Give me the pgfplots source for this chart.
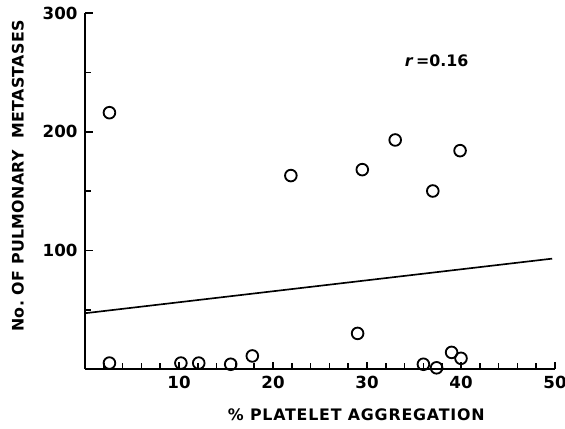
\documentclass[border=0pt]{standalone}
\usepackage{fontspec}
\setmainfont{DejaVu Sans}
\newfontfamily\lblfont[LetterSpace=5]{DejaVu Sans Bold}
\newfontfamily\ylblfont[LetterSpace=2]{DejaVu Sans Bold}
\usepackage{pgfplots}
\pgfplotsset{compat=1.18}
\begin{document}
\begin{tikzpicture}
\begin{axis}[
  scale only axis,
  width=282pt, height=213.6pt,
  xmin=0, xmax=50, ymin=0, ymax=300,
  axis lines*=left,
  axis line style={line width=1.3pt},
  tick align=inside,
  tick style={line width=1pt, black},
  major tick length=4.5pt,
  minor tick length=3.5pt,
  xtick={10,20,30,40,50},
  minor xtick={2,4,6,8,12,14,16,18,22,24,26,28,32,34,36,38,42,44,46,48},
  ytick={100,200,300},
  minor ytick={50,150,250},
  /pgf/number format/assume math mode=true,
  ticklabel style={font=\bfseries\fontsize{10}{12}\selectfont},
  xticklabel style={yshift=-1pt},
  yticklabel style={xshift=-1pt},
  xlabel={\%\ PLATELET\ AGGREGATION},
  ylabel={No.\ OF\ PULMONARY\ \ METASTASES},
  xlabel style={font=\lblfont\fontsize{9.5}{11}\selectfont, at={(axis description cs:0.577,-0.128)}, anchor=center},
  ylabel style={font=\ylblfont\fontsize{9.5}{11}\selectfont, at={(axis description cs:-0.1426,0.542)}, anchor=center},
  clip=false,
]
\addplot[only marks, mark=o, mark size=3.5pt, mark options={line width=1.1pt}] coordinates {
  (2.6,216) (2.6,5) (10.2,5) (12.1,5) (15.5,4) (17.8,11)
  (21.9,163) (29.5,168) (33.0,193) (37.0,150) (39.9,184)
  (29.0,30) (36.0,4) (37.4,1) (39.0,14) (40.0,9)
};
\addplot[line width=1pt, no marks] coordinates {(0,47) (49.7,93)};
\node[font=\bfseries\fontsize{9.5}{11}\selectfont] at (axis cs:37.4,260) {\textit{r}\,=0.16};
\end{axis}
\pgfresetboundingbox
\path (-51pt,-35.4pt) rectangle (288pt,221.4pt);
\end{tikzpicture}
\end{document}
